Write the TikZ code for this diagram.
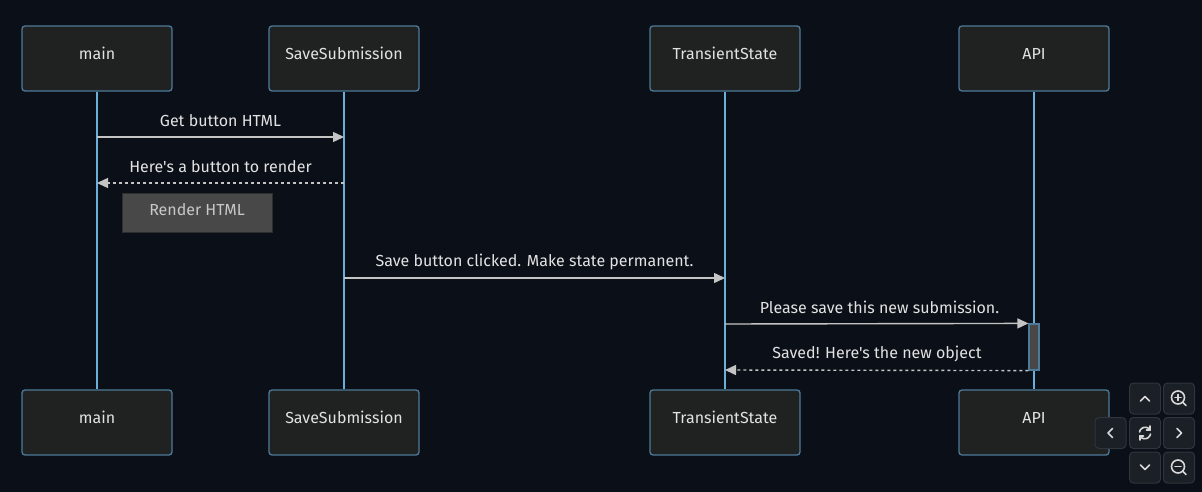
\documentclass[tikz,border=0pt]{standalone}
\usepackage{fontspec}
\newfontfamily\diagfont{Fira Sans}
\usetikzlibrary{arrows.meta}
\definecolor{bg}{HTML}{0B1018}
\definecolor{actfill}{HTML}{202121}
\definecolor{actborder}{HTML}{4D7A99}
\definecolor{lifeline}{HTML}{6BB0DB}
\definecolor{msgline}{HTML}{C4C4C4}
\definecolor{txt}{HTML}{E2E2E2}
\definecolor{notefill}{HTML}{484848}
\definecolor{noteborder}{HTML}{2E2E2E}
\definecolor{notetxt}{HTML}{C8C8C8}
\definecolor{actvfill}{HTML}{474747}
\definecolor{btnfill}{HTML}{1B2027}
\definecolor{btnborder}{HTML}{2F353D}
\definecolor{btnglyph}{HTML}{D8D8D8}
\tikzset{
  actor/.style={draw=actborder, fill=actfill, line width=1.3pt, rounded corners=3pt,
    minimum width=150pt, minimum height=65pt, inner sep=0pt},
  actortext/.style={text=txt, inner sep=0pt, font=\diagfont\fontsize{16}{19}\selectfont},
  life/.style={draw=lifeline, line width=1.4pt},
  msg/.style={draw=msgline, line width=1.4pt, -{Triangle[length=11pt,width=10pt]}, color=msgline},
  reply/.style={msg, dash pattern=on 3pt off 3pt},
  msgtext/.style={text=txt, font=\diagfont\fontsize{16}{19}\selectfont, inner sep=0pt},
  notebox/.style={draw=noteborder, fill=notefill, line width=1pt, minimum width=150pt,
    minimum height=39pt, inner sep=0pt},
  notetext/.style={text=notetxt, inner sep=0pt, font=\diagfont\fontsize{16}{19}\selectfont},
  btn/.style={draw=btnborder, fill=btnfill, line width=1pt, rounded corners=4pt,
    minimum width=31pt, minimum height=31pt, inner sep=0pt},
  glyph/.style={draw=btnglyph, line width=1.6pt, line cap=round, line join=round}
}
\begin{document}
\begin{tikzpicture}[x=1pt, y=-1pt]
\useasboundingbox[fill=bg] (0,0) rectangle (1202,492);
% actors top
\node[actor] (mainT) at (97,58.5) {};
\node[actor] (saveT) at (344,58.5) {};
\node[actor] (transT) at (725,58.5) {};
\node[actor] (apiT) at (1034,58.5) {};
% actors bottom
\node[actor] (mainB) at (97,422.5) {};
\node[actor] (saveB) at (344,422.5) {};
\node[actor] (transB) at (725,422.5) {};
\node[actor] (apiB) at (1034,422.5) {};
% actor labels
\foreach \n/\t in {mainT/main, saveT/SaveSubmission, transT/TransientState, apiT/API,
                   mainB/main, saveB/SaveSubmission, transB/TransientState, apiB/API}
  \node[actortext] (\n-label) at ([yshift=5pt]\n.center) {\t};
% lifelines
\draw[life] (mainT.south) -- (mainB.north);
\draw[life] (saveT.south) -- (saveB.north);
\draw[life] (transT.south) -- (transB.north);
\draw[life] (apiT.south) -- (apiB.north);
% activation
\node[draw=actborder, fill=actvfill, line width=1.2pt, minimum width=10pt, minimum height=46pt, inner sep=0pt] (act) at (1034,347) {};
% coordinates for messages
\coordinate (m1a) at (97,137);  \coordinate (m1b) at (344,137);
\coordinate (m2a) at (344,183); \coordinate (m2b) at (97,183);
\coordinate (m4a) at (344,278); \coordinate (m4b) at (725,278);
\coordinate (m5a) at (725,324); \coordinate (m5b) at (act.north west);
\coordinate (m6b) at (725,370);
% messages
\draw[msg] (m1a) -- (m1b);
\node[msgtext] (t1) at (220.5,120.5) {Get button HTML};
\draw[reply] (m2a) -- (m2b);
\node[msgtext] (t2) at (220.5,166.5) {Here's a button to render};
\node[notebox] (note) at (197,212.5) {};
\node[notetext] (note-label) at (197,209.5) {Render HTML};
\draw[msg] (m4a) -- (m4b);
\node[msgtext] (t4) at (534.5,261.5) {Save button clicked. Make state permanent.};
\draw[msg] (m5a) -- (m5b);
\node[msgtext] (t5) at (879.5,307.5) {Please save this new submission.};
\draw[reply] (act.south west) -- (m6b);
\node[msgtext] (t6) at (877,353.5) {Saved! Here's the new object};
% control buttons
\node[btn] (bUp) at (1145,398.5) {};
\node[btn] (bZin) at (1179,398.5) {};
\node[btn] (bLeft) at (1110.5,433) {};
\node[btn] (bRef) at (1145,433) {};
\node[btn] (bRight) at (1179,433) {};
\node[btn] (bDown) at (1145,467.5) {};
\node[btn] (bZout) at (1179,467.5) {};
% glyphs
\draw[glyph] ([shift={(-4.5,2.5)}]bUp.center) -- ([shift={(0,-2)}]bUp.center) -- ([shift={(4.5,2.5)}]bUp.center);
\draw[glyph] ([shift={(-4.5,-2.5)}]bDown.center) -- ([shift={(0,2)}]bDown.center) -- ([shift={(4.5,-2.5)}]bDown.center);
\draw[glyph] ([shift={(2,-4.5)}]bLeft.center) -- ([shift={(-2.5,0)}]bLeft.center) -- ([shift={(2,4.5)}]bLeft.center);
\draw[glyph] ([shift={(-2,-4.5)}]bRight.center) -- ([shift={(2.5,0)}]bRight.center) -- ([shift={(-2,4.5)}]bRight.center);
% refresh
\draw[glyph] ([shift={(-5.5,-1)}]bRef.center) arc[start angle=190, end angle=330, radius=5.8];
\draw[glyph] ([shift={(5.5,1)}]bRef.center) arc[start angle=10, end angle=150, radius=5.8];
\draw[glyph] ([shift={(5.2,-7)}]bRef.center) -- ([shift={(5.2,-3)}]bRef.center) -- ([shift={(1.5,-3)}]bRef.center);
\draw[glyph] ([shift={(-5.2,7)}]bRef.center) -- ([shift={(-5.2,3)}]bRef.center) -- ([shift={(-1.5,3)}]bRef.center);
% zoom in
\draw[glyph] ([shift={(-1,-1)}]bZin.center) circle[radius=6.5];
\draw[glyph] ([shift={(3.8,3.8)}]bZin.center) -- ([shift={(7,7)}]bZin.center);
\draw[glyph] ([shift={(-4,-1)}]bZin.center) -- ([shift={(2,-1)}]bZin.center);
\draw[glyph] ([shift={(-1,-4)}]bZin.center) -- ([shift={(-1,2)}]bZin.center);
% zoom out
\draw[glyph] ([shift={(-1,-1)}]bZout.center) circle[radius=6.5];
\draw[glyph] ([shift={(3.8,3.8)}]bZout.center) -- ([shift={(7,7)}]bZout.center);
\draw[glyph] ([shift={(-4,-1)}]bZout.center) -- ([shift={(2,-1)}]bZout.center);
\end{tikzpicture}
\end{document}
